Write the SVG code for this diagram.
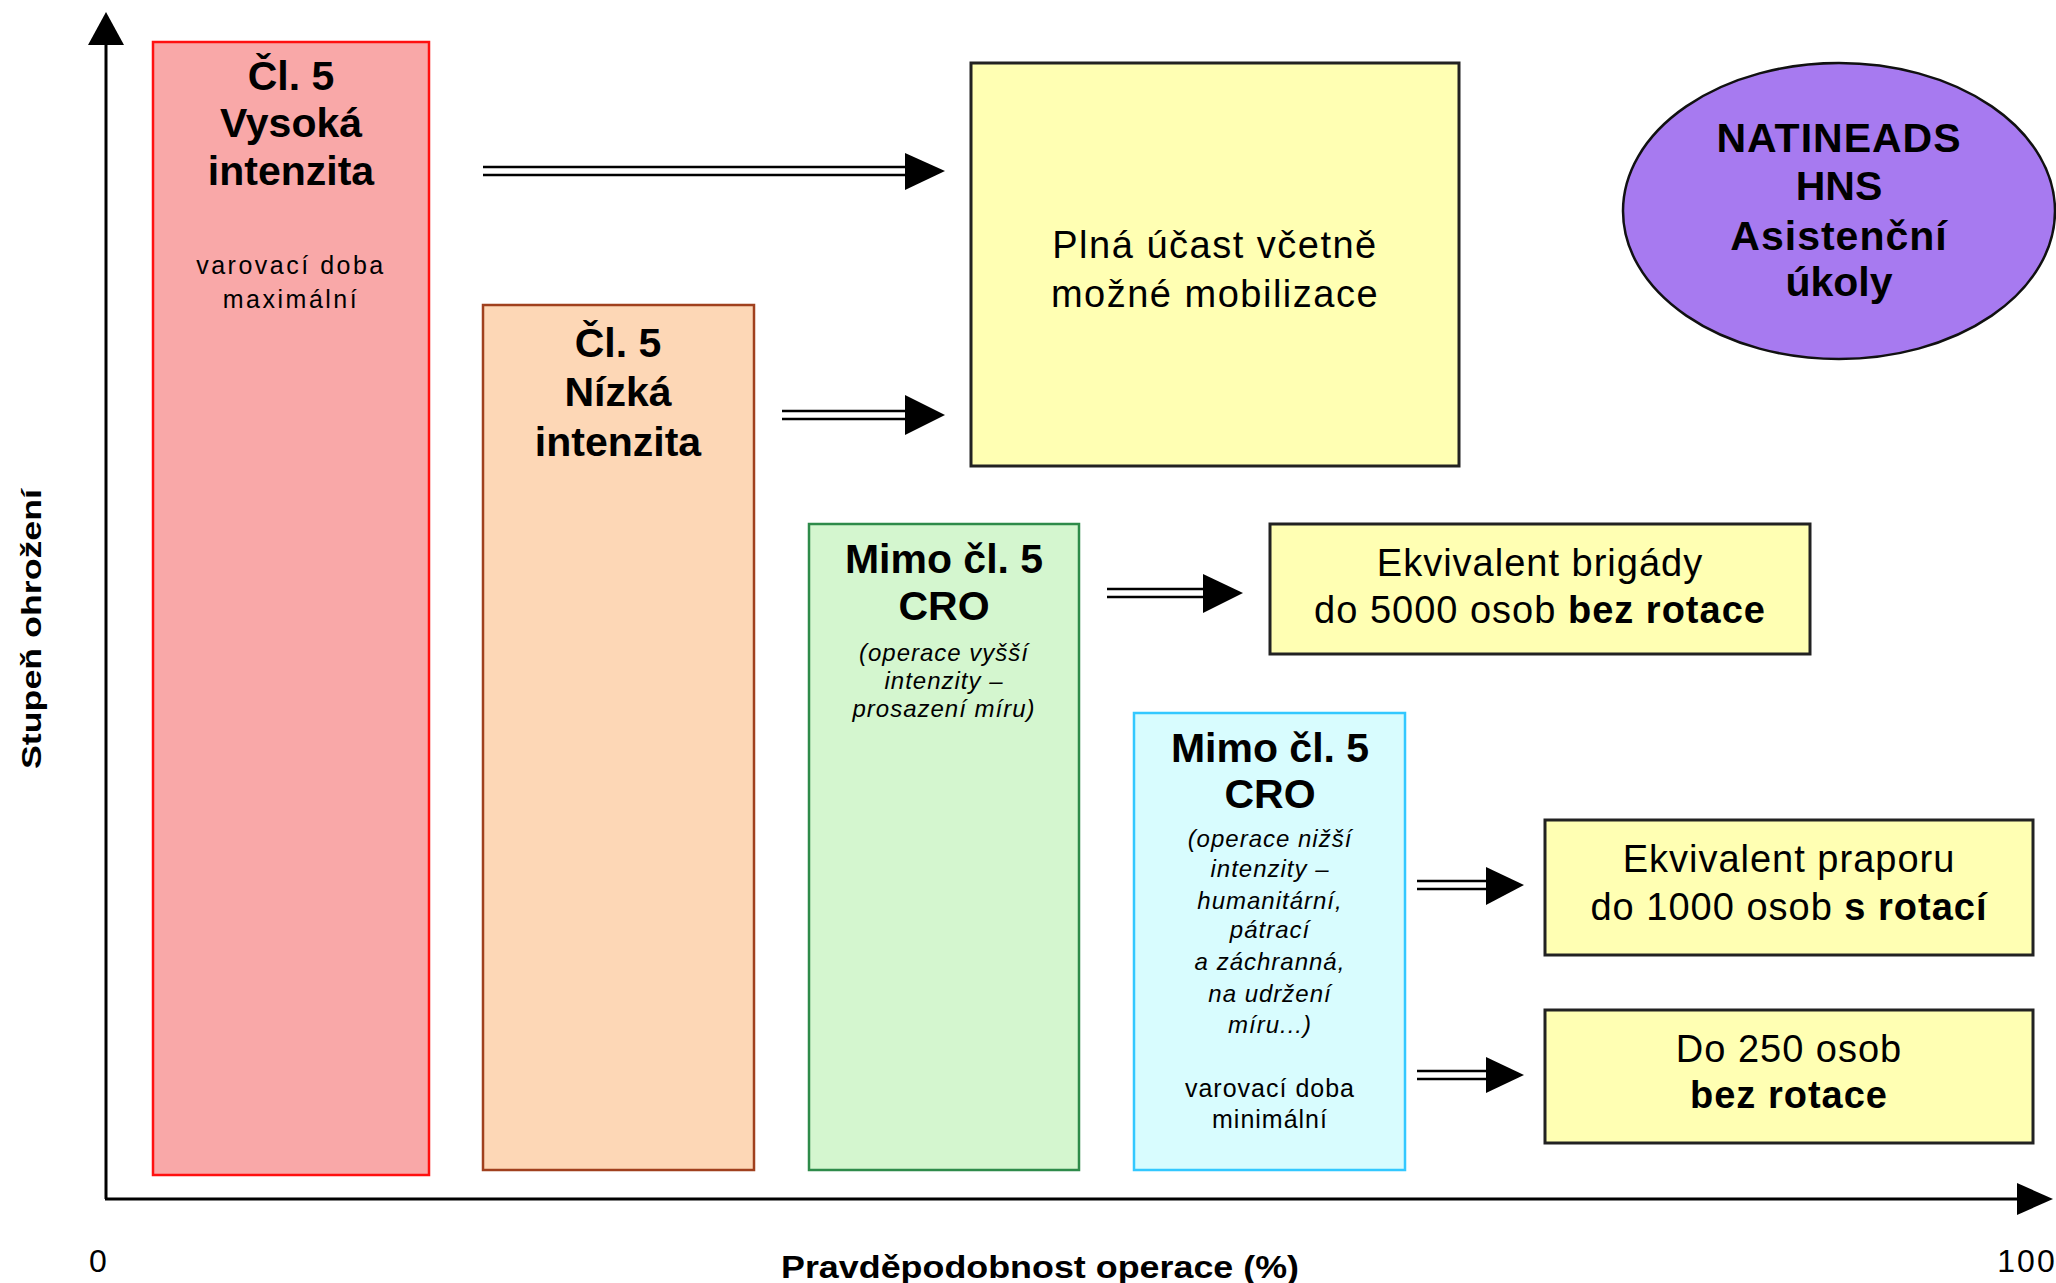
<svg xmlns="http://www.w3.org/2000/svg" width="2056" height="1283" viewBox="0 0 2056 1283">
<style>
text{font-family:"Liberation Sans",Arial,sans-serif;fill:#000;text-anchor:middle}
.h{font-size:41px;font-weight:bold}
.r{font-size:38px;letter-spacing:1.5px}
.r2{font-size:38px;letter-spacing:1px}
.b{font-weight:bold}
.s{font-size:25px}
.i{font-size:24px;font-style:italic;letter-spacing:1px}
.ax{stroke:#000;stroke-width:3;fill:none}
.dl{stroke:#000;stroke-width:2.5;fill:none}
.yb{fill:#ffffb3;stroke:#222;stroke-width:3}
</style>
<rect width="2056" height="1283" fill="#fff"/>
<g id="axes">
<line class="ax" x1="106" y1="44" x2="106" y2="1199"/>
<polygon points="88,45 124,45 106,12" fill="#000"/>
<line class="ax" x1="105" y1="1199" x2="2018" y2="1199"/>
<polygon points="2017,1183 2017,1215 2053,1199" fill="#000"/>
<text x="98" y="1272" font-size="32">0</text>
<text x="2027" y="1272" font-size="32" letter-spacing="2">100</text>
<text x="1040" y="1278" font-size="32" font-weight="bold" textLength="518" lengthAdjust="spacingAndGlyphs">Pravděpodobnost operace (%)</text>
<text transform="translate(41,629) rotate(-90)" font-size="28" font-weight="bold" textLength="280" lengthAdjust="spacingAndGlyphs">Stupeň ohrožení</text>
</g>
<g id="n-vysoka">
<rect x="153" y="42" width="276" height="1133" fill="#f9a8a8" stroke="#ff1010" stroke-width="2.5"/>
<text class="h" x="291" y="90">Čl. 5</text>
<text class="h" x="291" y="137">Vysoká</text>
<text class="h" x="291" y="185">intenzita</text>
<text class="s" x="291" y="274" letter-spacing="2.5">varovací doba</text>
<text class="s" x="291" y="308" letter-spacing="2.5">maximální</text>
</g>
<g id="n-nizka">
<rect x="483" y="305" width="271" height="865" fill="#fdd7b6" stroke="#a0401e" stroke-width="2.5"/>
<text class="h" x="618" y="357">Čl. 5</text>
<text class="h" x="618" y="406">Nízká</text>
<text class="h" x="618" y="456">intenzita</text>
</g>
<g id="n-cro-vyssi">
<rect x="809" y="524" width="270" height="646" fill="#d4f6cf" stroke="#2e8b4a" stroke-width="2.5"/>
<text class="h" x="944" y="573">Mimo čl. 5</text>
<text class="h" x="944" y="620">CRO</text>
<text class="i" x="944" y="661">(operace vyšší</text>
<text class="i" x="944" y="689">intenzity –</text>
<text class="i" x="944" y="717">prosazení míru)</text>
</g>
<g id="n-cro-nizsi">
<rect x="1134" y="713" width="271" height="457" fill="#d8fcfe" stroke="#33c8ff" stroke-width="2.5"/>
<text class="h" x="1270" y="762">Mimo čl. 5</text>
<text class="h" x="1270" y="808">CRO</text>
<text class="i" x="1270" y="847">(operace nižší</text>
<text class="i" x="1270" y="877">intenzity –</text>
<text class="i" x="1270" y="909">humanitární,</text>
<text class="i" x="1270" y="938">pátrací</text>
<text class="i" x="1270" y="970">a záchranná,</text>
<text class="i" x="1270" y="1002">na udržení</text>
<text class="i" x="1270" y="1033">míru...)</text>
<text class="s" x="1270" y="1097" letter-spacing="1">varovací doba</text>
<text class="s" x="1270" y="1128" letter-spacing="1">minimální</text>
</g>
<g id="n-plna">
<rect class="yb" x="971" y="63" width="488" height="403"/>
<text class="r" x="1215" y="258">Plná účast včetně</text>
<text class="r" x="1215" y="307">možné mobilizace</text>
</g>
<g id="n-natineads">
<ellipse cx="1839" cy="211" rx="216" ry="148" fill="#a77af0" stroke="#111" stroke-width="2.5"/>
<text class="h" x="1839" y="152" font-size="39" letter-spacing="1">NATINEADS</text>
<text class="h" x="1839" y="200" font-size="39">HNS</text>
<text class="h" x="1839" y="250" font-size="39" letter-spacing="1">Asistenční</text>
<text class="h" x="1839" y="296" font-size="39">úkoly</text>
</g>
<g id="n-brigada">
<rect class="yb" x="1270" y="524" width="540" height="130"/>
<text class="r2" x="1540" y="576">Ekvivalent brigády</text>
<text class="r2" x="1540" y="623">do 5000 osob <tspan class="b">bez rotace</tspan></text>
</g>
<g id="n-prapor">
<rect class="yb" x="1545" y="820" width="488" height="135"/>
<text class="r2" x="1789" y="872">Ekvivalent praporu</text>
<text class="r2" x="1789" y="920">do 1000 osob <tspan class="b">s rotací</tspan></text>
</g>
<g id="n-250">
<rect class="yb" x="1545" y="1010" width="488" height="133"/>
<text class="r2" x="1789" y="1062">Do 250 osob</text>
<text class="r2 b" x="1789" y="1108">bez rotace</text>
</g>
<g id="connectors">
<line class="dl" x1="483" y1="167" x2="907" y2="167"/>
<line class="dl" x1="483" y1="175" x2="907" y2="175"/>
<polygon points="905,153 905,190 945,171" fill="#000"/>
<line class="dl" x1="782" y1="411" x2="907" y2="411"/>
<line class="dl" x1="782" y1="419" x2="907" y2="419"/>
<polygon points="905,395 905,435 945,415" fill="#000"/>
<line class="dl" x1="1107" y1="589" x2="1205" y2="589"/>
<line class="dl" x1="1107" y1="597" x2="1205" y2="597"/>
<polygon points="1203,574 1203,613 1243,593" fill="#000"/>
<line class="dl" x1="1417" y1="881" x2="1488" y2="881"/>
<line class="dl" x1="1417" y1="889" x2="1488" y2="889"/>
<polygon points="1486,867 1486,905 1524,885" fill="#000"/>
<line class="dl" x1="1417" y1="1071" x2="1488" y2="1071"/>
<line class="dl" x1="1417" y1="1079" x2="1488" y2="1079"/>
<polygon points="1486,1057 1486,1093 1524,1075" fill="#000"/>
</g>
</svg>
